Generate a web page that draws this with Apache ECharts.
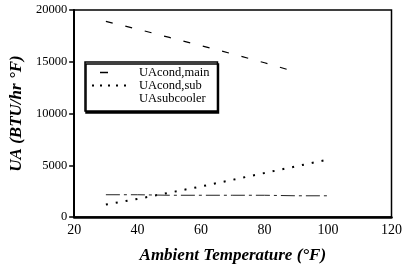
<!DOCTYPE html>
<html>
<head>
<meta charset="utf-8">
<script src="https://cdn.jsdelivr.net/npm/echarts@6/dist/echarts.min.js"></script>
<style>
  html, body { margin: 0; padding: 0; background: #fff; }
  #main { width: 405px; height: 272px; }
</style>
</head>
<body>
<div id="main"></div>
<script>
// data
let tempMain = [30, 40, 50, 60, 70, 80, 90]
  , uaMain = [18900, 18150, 17350, 16550, 15750, 14900, 14000]
  , tempSub = [30, 40, 50, 60, 70, 80, 90, 100]
  , uaSub = [1200, 1750, 2350, 2950, 3600, 4250, 4900, 5550]
  , uaSubcooler = [2150, 2150, 2100, 2100, 2100, 2100, 2050, 2050]
  , xTicks = [20, 40, 60, 80, 100, 120]
  , yTicks = [0, 5000, 10000, 15000, 20000]

let font = '"Liberation Serif", "DejaVu Serif", serif'

let chart = echarts.init(document.getElementById('main'))
chart.setOption({
  animation: false,
  backgroundColor: '#fff',
  grid: {
    left: 73, right: 8, top: 10, bottom: 55,
    show: true,
    borderColor: '#000',
    borderWidth: 1.5
  },
  legend: {
    orient: 'vertical',
    left: 85, top: 62,
    padding: [4, 8, 6, 2],
    itemGap: 0,
    itemWidth: 40,
    itemHeight: 15,
    backgroundColor: '#fff',
    borderColor: '#000',
    borderWidth: 1.5,
    shadowColor: '#000',
    shadowOffsetX: 1,
    shadowOffsetY: 2,
    itemStyle: { color: 'rgba(0,0,0,0)', borderWidth: 0 },
    textStyle: { fontFamily: font, fontSize: 12.5, color: '#000', padding: [0, 0, 0, 6] },
    data: [
      { name: 'UAcond,main', lineStyle: { type: [8, 100], dashOffset: -12, width: 1.5 } },
      { name: 'UAcond,sub', lineStyle: { type: [2, 6], width: 2 } },
      { name: 'UAsubcooler', lineStyle: { opacity: 0 } }
    ]
  },
  xAxis: {
    type: 'value',
    min: xTicks[0], max: xTicks[xTicks.length - 1], interval: 20,
    name: 'Ambient Temperature (°F)',
    nameLocation: 'middle',
    nameGap: 30,
    nameTextStyle: { fontFamily: font, fontSize: 17, fontStyle: 'italic', fontWeight: 'bold', color: '#000' },
    axisLine: { lineStyle: { color: '#000', width: 2.5 } },
    axisTick: { show: false },
    axisLabel: { fontFamily: font, fontSize: 14, color: '#000', margin: 6 },
    splitLine: { show: false }
  },
  yAxis: {
    type: 'value',
    min: yTicks[0], max: yTicks[yTicks.length - 1], interval: 5000,
    name: 'UA (BTU/hr °F)',
    nameLocation: 'middle',
    nameGap: 48,
    nameTextStyle: { fontFamily: font, fontSize: 17, fontStyle: 'italic', fontWeight: 'bold', color: '#000' },
    axisLine: { show: true, lineStyle: { color: '#000', width: 2 } },
    axisTick: { show: true, length: 5, lineStyle: { color: '#000', width: 1.5 } },
    axisLabel: { fontFamily: font, fontSize: 12.5, color: '#000', margin: 7, formatter: v => String(v) },
    splitLine: { show: false }
  },
  series: [
    {
      name: 'UAcond,main',
      type: 'line',
      symbol: 'none',
      data: tempMain.map((t, i) => [t, uaMain[i]]),
      itemStyle: { color: '#000' },
      lineStyle: { color: '#000', width: 1.2, type: [7, 13] }
    },
    {
      name: 'UAcond,sub',
      type: 'line',
      symbol: 'none',
      data: tempSub.map((t, i) => [t, uaSub[i]]),
      itemStyle: { color: '#000' },
      lineStyle: { color: '#000', width: 2, type: [2, 8] }
    },
    {
      name: 'UAsubcooler',
      type: 'line',
      symbol: 'none',
      data: tempSub.map((t, i) => [t, uaSubcooler[i]]),
      itemStyle: { color: '#000' },
      lineStyle: { color: '#222', width: 1, type: [14, 4, 3, 4] }
    }
  ]
})
</script>
</body>
</html>
